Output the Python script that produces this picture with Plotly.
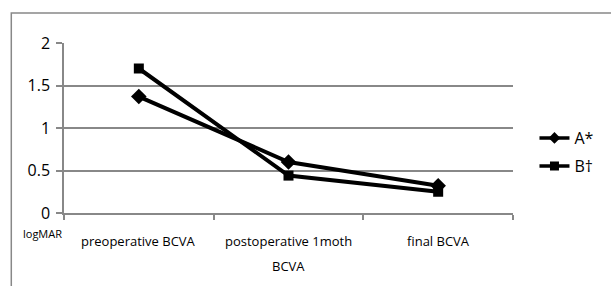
import plotly.graph_objects as go

categories = ["preoperative BCVA", "postoperative 1moth<br>BCVA", "final BCVA"]
series_a = [1.37, 0.60, 0.32]
series_b = [1.70, 0.44, 0.25]
y_ticks = [0, 0.5, 1, 1.5, 2]
y_tick_labels = ["0", "0.5", "1", "1.5", "2"]

W, H = 611, 286
L, R, T, B = 64, 87, 43, 73
pw, ph = W - L - R, H - T - B


def px(x):
    return (x - L) / pw


def py(y):
    return (H - B - y) / ph


xs = list(range(len(categories)))
fig = go.Figure()
fig.add_trace(go.Scatter(x=xs, y=series_a, name="A*", mode="lines+markers", showlegend=False,
                         line=dict(color="black", width=4),
                         marker=dict(symbol="diamond", size=12, color="black")))
fig.add_trace(go.Scatter(x=xs, y=series_b, name="B†", mode="lines+markers", showlegend=False,
                         line=dict(color="black", width=4),
                         marker=dict(symbol="square", size=10, color="black")))
# legend entries with smaller symbols
fig.add_trace(go.Scatter(x=[None], y=[None], name="A*", mode="lines+markers", legend="legend",
                         line=dict(color="black", width=3.5),
                         marker=dict(symbol="diamond", size=9, color="black")))
fig.add_trace(go.Scatter(x=[None], y=[None], name="B†", mode="lines+markers", legend="legend2",
                         line=dict(color="black", width=3.5),
                         marker=dict(symbol="square", size=9, color="black")))

annotations = [dict(text="logMAR", xref="paper", yref="paper", x=px(20), y=py(233),
                    xanchor="left", yanchor="middle", showarrow=False,
                    font=dict(size=11))]
for i, cat in enumerate(categories):
    lines = cat.split("<br>")
    for j, ln in enumerate(lines):
        annotations.append(dict(text=ln, xref="x", yref="paper", x=i, y=py(241 + 25 * j),
                                xanchor="center", yanchor="middle", showarrow=False,
                                font=dict(size=13)))

legend_common = dict(xanchor="left", yanchor="middle", font=dict(size=16),
                     itemwidth=30, bgcolor="rgba(0,0,0,0)", borderwidth=0)

fig.update_layout(
    width=W, height=H,
    margin=dict(l=L, r=R, t=T, b=B),
    paper_bgcolor="white", plot_bgcolor="white",
    font=dict(family="Open Sans, DejaVu Sans, sans-serif", color="black"),
    showlegend=True,
    legend=dict(x=px(546), y=py(138), **legend_common),
    legend2=dict(x=px(546), y=py(166), **legend_common),
    xaxis=dict(range=[-0.5, 2.5], tickvals=[-0.5, 0.5, 1.5, 2.5], showticklabels=False,
               ticks="outside", ticklen=5, tickcolor="#888", tickwidth=1.5,
               showline=True, linecolor="#888", linewidth=1.5, showgrid=False,
               zeroline=False),
    yaxis=dict(range=[0, 2], tickvals=y_ticks, ticktext=y_tick_labels,
               ticks="outside", ticklen=6, tickcolor="#888", tickwidth=1.5,
               showline=True, linecolor="#888", linewidth=1.5,
               showgrid=True, gridcolor="#888", gridwidth=1.5,
               zeroline=False, tickfont=dict(size=16), ticklabelstandoff=3),
    shapes=[dict(type="rect", xref="paper", yref="paper",
                 x0=px(10), x1=px(660), y0=py(340), y1=py(13),
                 line=dict(color="#888", width=1.5), fillcolor="rgba(0,0,0,0)",
                 layer="below")],
    annotations=annotations,
)

fig.write_html("out.html", config=dict(displayModeBar=False),
               post_script="document.body.style.margin='0';document.body.style.overflow='hidden';")
